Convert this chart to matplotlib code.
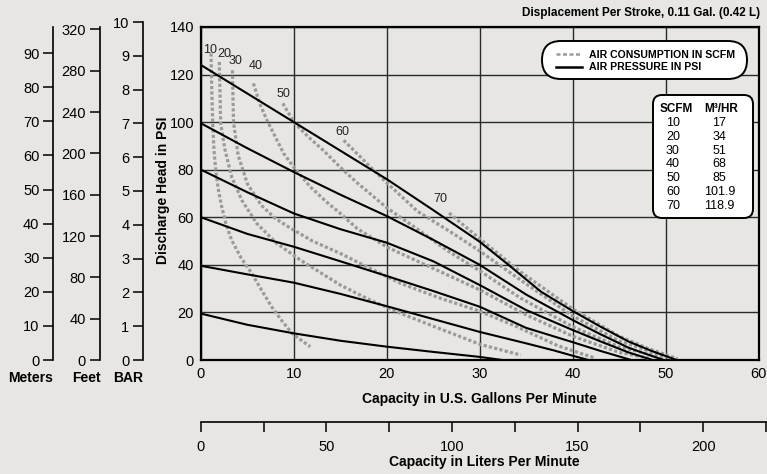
import numpy as np
import matplotlib
matplotlib.use("Agg")
import matplotlib.pyplot as plt
from matplotlib import font_manager
from matplotlib.patches import FancyBboxPatch
from matplotlib.lines import Line2D
from matplotlib.transforms import Affine2D

# --- data ---
# air pressure curves (PSI), capacity in US gpm
p125_x = [0, 5, 10, 15, 20, 25, 30, 33, 36.6, 40, 43, 46, 48.5, 51.2]
p125_y = [124, 112, 100, 88, 76, 63, 49.7, 40.3, 28.7, 20.6, 14, 7.8, 3.8, 0]
p100_x = [0, 5, 10, 15, 20, 25, 30, 35, 40, 43, 46, 48, 49.8]
p100_y = [99.5, 89, 79, 69.5, 60.5, 50.5, 40, 27.5, 16.8, 10.8, 5.2, 2.4, 0]
p80_x = [0, 5, 10, 15, 20, 25, 30, 35, 40, 43, 46, 48.6]
p80_y = [80, 70.5, 61.6, 55, 49.3, 41.5, 31.5, 21, 12.6, 7.8, 3.2, 0]
p60_x = [0, 5, 10, 15, 20, 25, 30, 35, 40, 43, 46.3]
p60_y = [60, 53, 47.6, 41.5, 35.3, 29, 22.4, 13.5, 7.5, 3.8, 0]
p40_x = [0, 5, 10, 15, 20, 25, 30, 35, 38, 40, 41.7]
p40_y = [39.6, 36, 32.5, 27.8, 22.6, 17.2, 11.8, 7, 4, 1.8, 0]
p20_x = [0, 5, 10, 15, 20, 25, 30, 32.4]
p20_y = [19.5, 14.8, 11.2, 8.1, 5.6, 3.4, 1.3, 0]

# air consumption curves (SCFM)
a10_x = [1.08, 1.15, 1.26, 1.4, 1.62, 1.9, 2.23, 2.7, 3.3, 4.3, 5.47, 6.5, 7.6, 8.7, 9.8, 11.0, 11.76]
a10_y = [128.9, 115, 99.4, 88, 78.4, 71, 64.4, 57, 50.4, 43, 36.4, 29.5, 22.4, 16.5, 11.2, 7.7, 5.6]
a20_x = [1.97, 2.12, 2.59, 3.3, 4.39, 6.0, 8.17, 10.7, 15, 18.2, 21.5, 25.8, 30.1, 34.4]
a20_y = [125.3, 99.4, 88.2, 77, 67.2, 57.4, 49, 42, 31.5, 25.2, 19.6, 13, 6.5, 2.1]
a30_x = [3.38, 3.5, 4.0, 5.0, 6.5, 8.0, 9.6, 12, 15, 18.2, 21.5, 25.8, 30, 34, 38.4, 42.4]
a30_y = [121.8, 100, 86, 74, 65, 59.5, 55.5, 50, 44.8, 38.5, 32.2, 25.9, 20.5, 14, 6, 0.8]
a40_x = [5.64, 6.3, 7.1, 8.9, 10, 11.76, 13.5, 15, 16.8, 20, 25, 30, 35, 40, 45, 48.5]
a40_y = [116.3, 108, 100.8, 86.8, 81, 72.8, 66.5, 61.6, 55.3, 47.5, 38.5, 29.5, 19, 10, 3.2, 0.5]
a50_x = [8.8, 10, 11.5, 13.2, 15, 16.8, 20, 23.3, 26.5, 30, 34.4, 40, 45, 50]
a50_y = [107.9, 100, 94, 88, 81, 74.5, 64, 55, 46, 37.5, 26, 14, 5.5, 0.8]
a60_x = [15.35, 18.4, 20, 23.3, 27.2, 30, 34.4, 40, 45, 50.6]
a60_y = [92.4, 80.5, 74.5, 62.5, 53, 45.8, 33.6, 18.5, 8, 0.8]
a70_x = [26.7, 30, 34.4, 40, 45, 48, 51.3]
a70_y = [61.8, 51, 37, 21.5, 10, 5, 0.5]

scfm_labels = ['10', '20', '30', '40', '50', '60', '70']
scfm_label_x = [0.97, 2.5, 3.74, 5.85, 8.88, 15.18, 25.8]
scfm_label_y = [130.3, 128.6, 125.8, 123.5, 111.8, 95.9, 67.5]

table_scfm = ['10', '20', '30', '40', '50', '60', '70']
table_m3hr = ['17', '34', '51', '68', '85', '101.9', '118.9']

meters_ticks = np.arange(0, 91, 10)
feet_ticks = np.arange(0, 321, 40)
bar_ticks = np.arange(0, 11, 1)
liters_ticks = np.arange(0, 226, 25)

# --- fonts ---
names = {f.name for f in font_manager.fontManager.ttflist}
FONT = 'Liberation Sans Narrow' if 'Liberation Sans Narrow' in names else 'Liberation Sans'
plt.rcParams['font.family'] = [FONT, 'DejaVu Sans']

BG = '#e7e6e2'
GREY = '#9a9a9a'
W, H = 767, 474

fig = plt.figure(figsize=(W / 100, H / 100), dpi=100)
fig.patch.set_facecolor(BG)

# pixel coordinates, origin top-left
PX = Affine2D().scale(1.0 / W, -1.0 / H).translate(0, 1) + fig.transFigure


def fx(px):
    return px / W


def fy(py):
    return 1 - py / H


# main chart
ax = fig.add_axes([fx(201), fy(360), fx(758.5) - fx(201), fy(27) - fy(360)])
ax.set_facecolor(BG)
ax.set_xlim(0, 60)
ax.set_ylim(0, 140)
ax.set_xticks(range(0, 61, 10))
ax.set_yticks(range(0, 141, 20))
ax.grid(True, color='#2a2a2a', lw=1.0)
ax.set_axisbelow(True)
ax.tick_params(length=0, labelsize=10.5, pad=5)
for s in ax.spines.values():
    s.set_linewidth(1.6)

for xs, ys in [(a10_x, a10_y), (a20_x, a20_y), (a30_x, a30_y), (a40_x, a40_y),
               (a50_x, a50_y), (a60_x, a60_y), (a70_x, a70_y)]:
    ax.plot(xs, ys, color=GREY, lw=2.3, ls=(0, (1.0, 0.7)), zorder=3)

for xs, ys in [(p125_x, p125_y), (p100_x, p100_y), (p80_x, p80_y),
               (p60_x, p60_y), (p40_x, p40_y), (p20_x, p20_y)]:
    ax.plot(xs, ys, color='black', lw=1.5, zorder=4)

for t, x, y in zip(scfm_labels, scfm_label_x, scfm_label_y):
    ax.text(x, y, t, fontsize=9, ha='center', va='center', color='#222222', zorder=5)

ax.set_xlabel('Capacity in U.S. Gallons Per Minute', fontsize=10, weight='bold', labelpad=8)

# side scales
def side_axis(px, top_py, top_val, ticks):
    a = fig.add_axes([fx(px), fy(360), 0.0005, fy(top_py) - fy(360)])
    a.patch.set_visible(False)
    for k in ['top', 'right', 'bottom']:
        a.spines[k].set_visible(False)
    a.spines['left'].set_linewidth(1.2)
    a.set_xticks([])
    a.set_ylim(0, top_val)
    a.set_yticks(ticks)
    a.tick_params(axis='y', length=7, width=1.1, labelsize=10.5, pad=3)
    return a

side_axis(53.3, 27, 97.7, meters_ticks)
side_axis(100, 27, 322.3, feet_ticks)
side_axis(143.3, 22, 10, bar_ticks)

for t, x in [('Meters', 31), ('Feet', 86), ('BAR', 128)]:
    fig.text(x, 378, t, transform=PX, ha='center', va='center', fontsize=10, weight='bold')

fig.text(163, 190, 'Discharge Head in PSI', transform=PX, rotation=90,
         ha='center', va='center', fontsize=10, weight='bold')

# liters scale
axl = fig.add_axes([fx(200.7), fy(421.7), fx(767.5) - fx(200.7), 0.0005])
axl.patch.set_visible(False)
for k in ['top', 'left', 'right']:
    axl.spines[k].set_visible(False)
axl.spines['bottom'].set_linewidth(1.2)
axl.set_yticks([])
axl.set_xlim(0, 225.6)
axl.set_xticks(liters_ticks)
axl.set_xticklabels([str(v) if v % 50 == 0 else '' for v in liters_ticks])
axl.tick_params(axis='x', length=7, width=1.1, labelsize=10.5, pad=6)
axl.set_xlabel('Capacity in Liters Per Minute', fontsize=10, weight='bold', labelpad=1)

# title
fig.text(760, 13, 'Displacement Per Stroke, 0.11 Gal. (0.42 L)', transform=PX,
         ha='right', va='center', fontsize=8.5, weight='bold')

# legend pill
fig.add_artist(FancyBboxPatch((542, 41), 205, 38, boxstyle='round,pad=0,rounding_size=19',
                              transform=PX, facecolor='white', edgecolor='black', lw=1.4, zorder=6))
fig.add_artist(Line2D([556, 582], [54.5, 54.5], transform=PX, color=GREY, lw=1.8,
                      ls=(0, (1.6, 1.0)), zorder=7))
fig.add_artist(Line2D([556, 582], [67.5, 67.5], transform=PX, color='black', lw=1.8, zorder=7))
fig.text(589, 54.5, 'AIR CONSUMPTION IN SCFM', transform=PX, ha='left', va='center',
         fontsize=7.6, weight='bold', zorder=7)
fig.text(589, 67.5, 'AIR PRESSURE IN PSI', transform=PX, ha='left', va='center',
         fontsize=7.6, weight='bold', zorder=7)

# scfm table
fig.add_artist(FancyBboxPatch((653, 95), 100, 123, boxstyle='round,pad=0,rounding_size=9',
                              transform=PX, facecolor='white', edgecolor='black', lw=1.4, zorder=6))
fig.text(676, 109, 'SCFM', transform=PX, ha='center', va='center', fontsize=8.5,
         weight='bold', zorder=7)
fig.text(721, 109, 'M³/HR', transform=PX, ha='center', va='center', fontsize=8.5,
         weight='bold', zorder=7)
for i, (s, m) in enumerate(zip(table_scfm, table_m3hr)):
    y = 123 + i * 13.8
    fig.text(673, y, s, transform=PX, ha='center', va='center', fontsize=9, zorder=7)
    fig.text(719.5, y, m, transform=PX, ha='center', va='center', fontsize=9, zorder=7)

fig.savefig('out.png', dpi=100, facecolor=BG)
